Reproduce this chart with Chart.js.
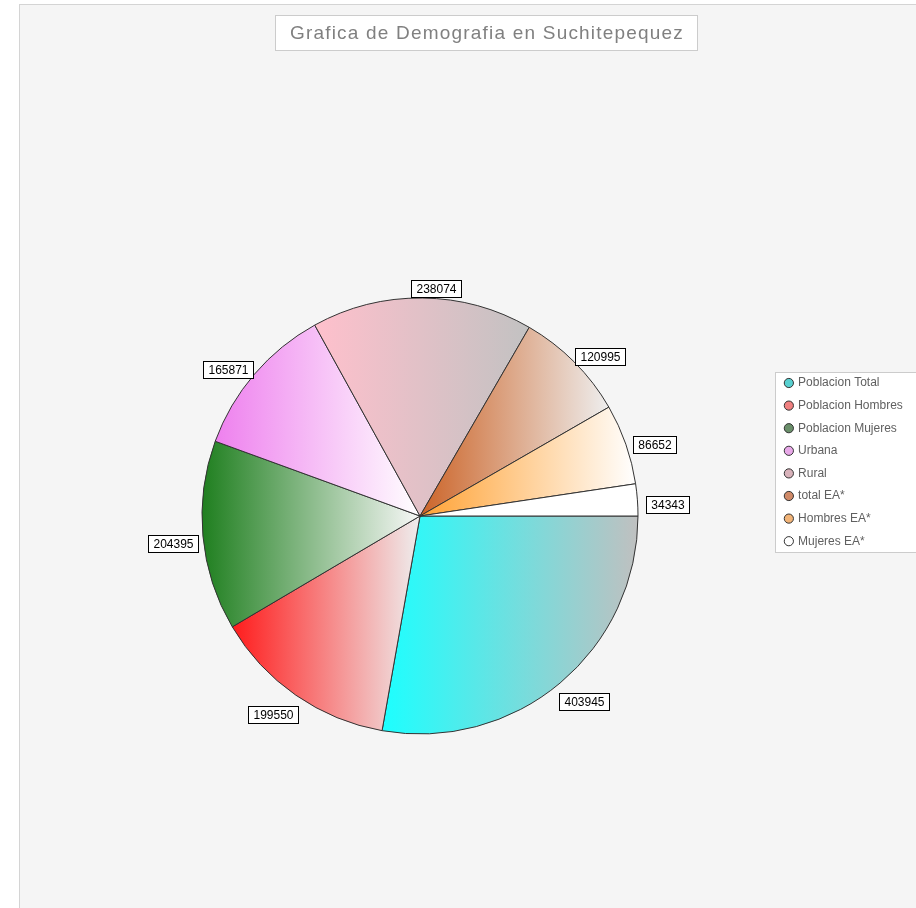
<!DOCTYPE html>
<html>
<head>
<meta charset="utf-8">
<title>Grafica de Demografia en Suchitepequez</title>
<script src="https://cdn.jsdelivr.net/npm/chart.js@4.4.1/dist/chart.umd.min.js"></script>
<style>
  html, body { margin: 0; padding: 0; background: #fff; overflow: hidden; }
  canvas { display: block; }
</style>
</head>
<body>
<canvas id="demoChart" width="972" height="1000"></canvas>
<script>
// Datos
const titulo = "Grafica de Demografia en Suchitepequez"
const categorias = ["Poblacion Total", "Poblacion Hombres", "Poblacion Mujeres", "Urbana", "Rural", "total EA*", "Hombres EA*", "Mujeres EA*"]
const poblacion = [403945, 199550, 204395, 165871, 238074, 120995, 86652, 34343]

// Colores: inicio y fin del degradado de cada sector, y el de la leyenda
const coloresInicio = ["#1cffff", "#ff1c1c", "#1f7f1f", "#ee80ee", "#ffc0cc", "#cc6428", "#ffa234", "#ffffff"]
const coloresFin = ["#c0c0c0", "#eeeeee", "#f8f8f8", "#ffffff", "#c2c2c2", "#eeeeee", "#ffffff", "#ffffff"]
const coloresLeyenda = ["#58d0d0", "#f08080", "#6a8f6a", "#e8a8e8", "#d8b2ba", "#d08a68", "#f2b478", "#ffffff"]

const fuente = '"Liberation Sans", Arial, sans-serif'

// Fondo del panel, caja del titulo y caja de la leyenda
const fondo = {
  id: "fondo",
  beforeDraw(chart) {
    const { ctx, width, height } = chart
    ctx.save()
    ctx.fillStyle = "#ffffff"
    ctx.fillRect(0, 0, width, height)
    ctx.fillStyle = "#f5f5f5"
    ctx.strokeStyle = "#d4d4d4"
    ctx.lineWidth = 1
    ctx.fillRect(19.5, 4.5, width, height)
    ctx.strokeRect(19.5, 4.5, width, height)

    // titulo
    ctx.font = "19px " + fuente
    ctx.letterSpacing = "1.2px"
    const tw = ctx.measureText(titulo).width
    const cx = (chart.chartArea.left + chart.chartArea.right + chart.legend.width) / 2
    ctx.fillStyle = "#ffffff"
    ctx.strokeStyle = "#cccccc"
    const bx = Math.round(cx - tw / 2 - 14) + 0.5
    ctx.fillRect(bx, 15.5, Math.round(tw + 28), 35)
    ctx.strokeRect(bx, 15.5, Math.round(tw + 28), 35)
    ctx.fillStyle = "#808080"
    ctx.textBaseline = "middle"
    ctx.textAlign = "left"
    ctx.fillText(titulo, cx - tw / 2 + 1, 33.5)
    ctx.letterSpacing = "0px"

    // caja de la leyenda
    const cajas = chart.legend.legendHitBoxes
    if (cajas && cajas.length) {
      const top = Math.round(cajas[0].top + cajas[0].height / 2 - 11) + 0.5
      const last = cajas[cajas.length - 1]
      const bottom = Math.round(last.top + last.height / 2 + 11) + 0.5
      ctx.fillStyle = "#ffffff"
      ctx.strokeStyle = "#cccccc"
      ctx.fillRect(Math.round(chart.legend.left) + 0.5, top, 300, bottom - top)
      ctx.strokeRect(Math.round(chart.legend.left) + 0.5, top, 300, bottom - top)
    }
    ctx.restore()
  },
}

// Degradado horizontal de cada sector, de izquierda a derecha
const degradado = {
  id: "degradado",
  beforeDatasetsDraw(chart) {
    const { ctx } = chart
    chart.getDatasetMeta(0).data.forEach((arc, i) => {
      const { x, startAngle, endAngle, outerRadius } = arc.getProps(["x", "startAngle", "endAngle", "outerRadius"], true)
      const xs = [x, x + Math.cos(startAngle) * outerRadius, x + Math.cos(endAngle) * outerRadius]
      for (let k = -4; k <= 4; k++) {
        const a = k * Math.PI
        if (a > startAngle && a < endAngle) xs.push(x + Math.cos(a) * outerRadius)
      }
      const g = ctx.createLinearGradient(Math.min(...xs), 0, Math.max(...xs), 0)
      g.addColorStop(0, coloresInicio[i])
      g.addColorStop(1, coloresFin[i])
      if (Object.isFrozen(arc.options)) {
        arc.options = Object.assign({}, arc.options, { backgroundColor: g })
      } else {
        arc.options.backgroundColor = g
      }
    })
  },
}

// Etiquetas con el valor de cada sector
const etiquetas = {
  id: "etiquetas",
  afterDatasetsDraw(chart) {
    const { ctx } = chart
    ctx.save()
    ctx.font = "12px " + fuente
    ctx.textAlign = "center"
    ctx.textBaseline = "middle"
    ctx.lineWidth = 1
    chart.getDatasetMeta(0).data.forEach((arc, i) => {
      const { x, y, startAngle, endAngle, outerRadius } = arc.getProps(["x", "y", "startAngle", "endAngle", "outerRadius"], true)
      const mid = (startAngle + endAngle) / 2
      const r = outerRadius + 16
      const cx = x + Math.cos(mid) * r + Math.sign(Math.cos(mid)) * 14
      const cy = y + Math.sin(mid) * r + 6
      const texto = String(poblacion[i])
      const w = Math.round(ctx.measureText(texto).width) + 10
      const h = 17
      const bx = Math.round(cx - w / 2) + 0.5
      const by = Math.round(cy - h / 2) + 0.5
      ctx.fillStyle = "#ffffff"
      ctx.fillRect(bx, by, w, h)
      ctx.strokeStyle = "#000000"
      ctx.strokeRect(bx, by, w, h)
      ctx.fillStyle = "#000000"
      ctx.fillText(texto, bx + w / 2, by + h / 2 + 0.5)
    })
    ctx.restore()
  },
}

new Chart(document.getElementById("demoChart"), {
  type: "pie",
  data: {
    labels: categorias,
    datasets: [
      {
        data: poblacion,
        backgroundColor: coloresLeyenda,
        borderColor: "#333333",
        borderWidth: 1,
      },
    ],
  },
  options: {
    responsive: false,
    animation: false,
    rotation: 90,
    radius: 218,
    layout: { padding: { top: 60, bottom: 28, left: 65, right: 65 } },
    plugins: {
      title: { display: false },
      tooltip: { enabled: false },
      legend: {
        position: "right",
        align: "start",
        fullSize: false,
        maxWidth: 132,
        title: { display: true, text: "", padding: 146, font: { size: 12 } },
        labels: {
          usePointStyle: true,
          pointStyle: "circle",
          boxWidth: 6.5,
          boxHeight: 6.5,
          padding: 10.6,
          color: "#606060",
          font: { family: fuente, size: 12 },
        },
      },
    },
  },
  plugins: [fondo, degradado, etiquetas],
})
</script>
</body>
</html>
